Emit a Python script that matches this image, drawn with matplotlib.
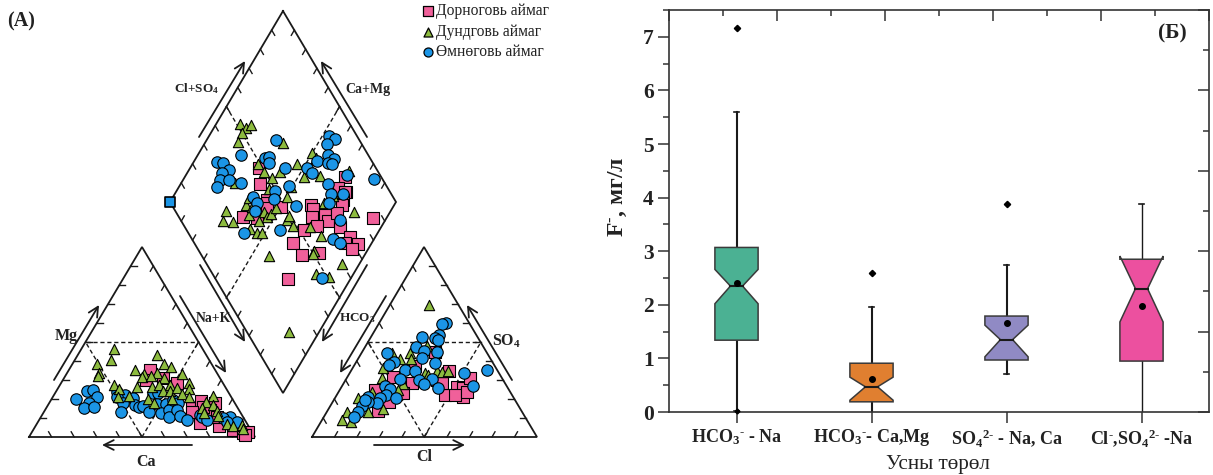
import numpy as np
import matplotlib
matplotlib.use('Agg')
import matplotlib.pyplot as plt
from matplotlib.ticker import MultipleLocator, NullFormatter

plt.rcParams['font.family'] = ['Liberation Serif', 'DejaVu Serif']
plt.rcParams['mathtext.fontset'] = 'custom'
plt.rcParams['mathtext.rm'] = 'Liberation Serif:bold'
plt.rcParams['mathtext.it'] = 'Liberation Serif:italic'
plt.rcParams['mathtext.bf'] = 'Liberation Serif:bold'
plt.rcParams['mathtext.default'] = 'bf'

# piper points in image pixels
diamond_pink = [(259,168),(260,184),(345,177),(338,188),(346,192),(267,200),(345,192),(343,200),(342,205),
                (267,203),(267,208),(281,207),(243,217),(311,205),(313,209),(312,217),(325,215),(328,221),
                (337,213),(317,226),(340,227),(304,230),(373,218),(350,237),(345,243),(358,244),(352,249),
                (293,243),(302,255),(319,253),(288,279),(257,218)]
diamond_green = [(240,124),(246,128),(251,125),(242,133),(238,142),(283,143),(258,164),(264,172),(272,178),
                 (280,172),(297,164),(312,153),(316,158),(304,177),(320,176),(349,171),(235,183),(291,187),
                 (269,189),(287,197),(333,193),(226,211),(223,221),(233,222),(250,229),(257,233),(262,233),
                 (249,215),(246,205),(252,207),(249,198),(264,212),(259,221),(267,217),(271,214),(276,208),
                 (287,220),(289,216),(293,226),(310,227),(321,236),(354,212),(324,203),(333,196),(269,256),
                 (314,251),(313,254),(342,264),(316,274),(329,277),(289,332)]
diamond_blue = [(276,140),(329,136),(335,139),(327,144),(241,155),(217,162),(223,163),(328,155),(334,159),
                (317,161),(328,163),(332,164),(265,158),(269,157),(269,163),(285,168),(229,170),(222,173),
                (220,180),(229,180),(241,183),(217,187),(307,168),(312,173),(328,184),(289,186),(275,191),
                (374,179),(347,175),(253,197),(274,199),(331,194),(343,194),(257,203),(255,211),(296,206),
                (329,203),(340,220),(280,230),(244,233),(333,239),(340,243),(322,278)]

left_pink = [(150,370),(146,380),(163,378),(177,383),(192,408),(201,401),(215,403),(200,423),(219,426),
             (210,410),(233,430),(243,433),(248,432),(203,407),(217,417),(192,412),(245,435)]
left_blue = [(76,399),(87,391),(93,390),(97,397),(89,403),(84,408),(94,407),(117,392),(125,395),(117,397),
             (133,398),(123,403),(121,412),(135,405),(139,407),(143,406),(149,412),(153,393),(158,393),
             (157,404),(166,404),(161,413),(169,410),(169,417),(173,400),(178,403),(177,410),(180,416),
             (187,420),(200,415),(202,417),(207,420),(230,417),(237,422),(223,418),(227,422)]
left_green = [(114,349),(111,360),(97,364),(99,373),(98,376),(114,385),(119,389),(118,397),(129,396),(135,370),
              (137,387),(157,355),(164,364),(171,367),(157,373),(144,374),(142,377),(151,376),(164,378),
              (182,374),(152,387),(159,385),(170,385),(163,391),(170,391),(177,388),(189,383),(189,389),
              (182,394),(189,397),(148,399),(154,403),(172,399),(213,396),(206,402),(213,405),(202,408),
              (204,413),(217,411),(218,416),(227,424),(233,426),(242,425),(243,429)]

right_pink = [(445,395),(457,387),(463,388),(463,397),(455,395),(470,378),(449,371),(415,366),(412,383),
              (403,393),(393,377),(375,390),(378,411),(389,402),(437,380),(442,383),(435,352),(467,392)]
right_green = [(429,305),(392,353),(410,353),(411,359),(400,359),(427,346),(383,368),(382,378),(425,373),
               (437,371),(442,372),(448,371),(403,384),(372,392),(358,398),(347,412),(342,420),(351,422),
               (383,409),(368,412),(398,390),(428,375)]
right_blue = [(487,370),(464,373),(473,386),(446,323),(442,324),(422,337),(439,335),(435,338),(438,340),
              (416,347),(424,351),(437,352),(387,353),(422,358),(394,362),(389,365),(435,363),(405,370),
              (415,371),(400,379),(432,379),(419,380),(424,384),(438,388),(385,386),(390,389),(386,395),
              (396,398),(380,398),(377,403),(368,397),(368,402),(362,406),(358,412),(354,417),(365,400)]

legend_names = ['Дорноговь аймаг', 'Дундговь аймаг', 'Өмнөговь аймаг']

# box chart values
box_labels = ['HCO$_3$$^{\\text{-}}$ - Na', 'HCO$_3$$^{\\text{-}}$- Ca,Mg',
              'SO$_4$$^{\\text{2-}}$ - Na, Ca', 'Cl$^{\\text{-}}$,SO$_4$$^{\\text{2-}}$ -Na']
box_q1 = [1.34, 0.19, 0.97, 0.95]
box_q3 = [3.07, 0.91, 1.79, 2.85]
box_med = [2.35, 0.47, 1.35, 2.30]
notch_lo = [2.02, 0.22, 1.03, 1.68]
notch_hi = [2.66, 0.65, 1.62, 2.91]
whisk_lo = [0.02, 0.0, 0.71, 0.0]
whisk_hi = [5.60, 1.95, 2.74, 3.88]
box_mean = [2.40, 0.62, 1.66, 1.97]
box_out = [7.17, 2.60, 3.88, None]
box_colors = ['#4bb193', '#e07f30', '#908ac4', '#ec509f']
whisk_width = [1.5, 1.5, 1.5, 1.0]

PINK = '#f0609a'
GREEN = '#8dbb3f'
BLUE = '#1b95e6'
INK = '#1a1a1a'

def side_ticks(ax, p0, p1, d, n=10, size=6):
    p0, p1 = np.array(p0, float), np.array(p1, float)
    for i in range(1, n):
        p = p0 + (p1 - p0) * i / n
        ax.plot([p[0], p[0] + d[0]*size], [p[1], p[1] + d[1]*size], color=INK, lw=1.0, zorder=2)

def outline(ax, pts):
    xs = [p[0] for p in pts] + [pts[0][0]]
    ys = [p[1] for p in pts] + [pts[0][1]]
    ax.plot(xs, ys, color=INK, lw=1.3, zorder=2, solid_joinstyle='miter')

def dashed(ax, a, b):
    ax.plot([a[0], b[0]], [a[1], b[1]], color=INK, lw=1.0, ls=(0, (3, 2)), zorder=2)

def arrow(ax, a, b):
    ax.annotate('', xy=b, xytext=a, zorder=2,
                arrowprops=dict(arrowstyle='->,head_length=0.7,head_width=0.35', color=INK, lw=1.3,
                                shrinkA=0, shrinkB=0))

def points(ax, data, marker, color, z):
    arr = np.array(data)
    ax.scatter(arr[:, 0], arr[:, 1], marker=marker, s=ms[marker], facecolor=color, edgecolor='black',
               linewidth=0.8, zorder=z, clip_on=False)

ms = {'s': 70, '^': 55, 'o': 68}
up_r, up_l = (0.5, -0.866), (-0.5, -0.866)
dn_r, dn_l = (0.5, 0.866), (-0.5, 0.866)

fig = plt.figure(figsize=(12.13, 4.75), dpi=100)

# left panel, axes units are image pixels
ax = fig.add_axes([0, 0, 600/1213, 1])
ax.set_xlim(0, 600)
ax.set_ylim(475, 0)
ax.axis('off')

# cation triangle
A, B, C = (29, 437), (255, 437), (142, 247)
outline(ax, [A, B, C])
side_ticks(ax, A, B, up_l)
side_ticks(ax, A, C, (1, 0))
side_ticks(ax, C, B, dn_l)
dashed(ax, (85.5, 342), (198.5, 342))
dashed(ax, (142, 437), (85.5, 342))
dashed(ax, (142, 437), (198.5, 342))
arrow(ax, (54, 380), (99, 305))
arrow(ax, (180, 296), (226, 373))
arrow(ax, (192, 445), (102, 445))

# anion triangle
D, E, F = (312, 437), (537, 437), (424, 247)
outline(ax, [D, E, F])
side_ticks(ax, D, E, up_r)
side_ticks(ax, E, F, (-1, 0))
side_ticks(ax, F, D, dn_r)
dashed(ax, (368, 342), (481, 342))
dashed(ax, (424, 437), (368, 342))
dashed(ax, (424, 437), (481, 342))
arrow(ax, (386, 296), (340, 373))
arrow(ax, (512, 380), (467, 305))
arrow(ax, (374, 445), (465, 445))

# diamond
T, L, R, S = (283, 11), (170, 202), (396, 202), (283, 393)
outline(ax, [T, R, S, L])
side_ticks(ax, T, L, dn_r)
side_ticks(ax, T, R, dn_l)
side_ticks(ax, S, L, up_r)
side_ticks(ax, S, R, up_l)
dashed(ax, (226, 106), (340, 299))
dashed(ax, (340, 106), (226, 299))
arrow(ax, (199, 137), (245, 61))
arrow(ax, (367, 137), (321, 61))
arrow(ax, (200, 265), (245, 342))
arrow(ax, (367, 265), (322, 342))

points(ax, left_pink, 's', PINK, 3)
points(ax, left_blue, 'o', BLUE, 4)
points(ax, left_green, '^', GREEN, 5)
points(ax, right_pink, 's', PINK, 3)
points(ax, right_green, '^', GREEN, 4)
points(ax, right_blue, 'o', BLUE, 5)
points(ax, diamond_pink, 's', PINK, 3)
points(ax, diamond_green, '^', GREEN, 4)
points(ax, diamond_blue, 'o', BLUE, 5)
ax.scatter([170], [202], marker='s', s=50, facecolor=BLUE, edgecolor='black', linewidth=1.2, zorder=6)

for txt, x, y, fs in [('Cl+SO$_4$', 197, 89, 9.5), ('Ca+Mg', 368, 90, 10), ('Na+K', 213, 318, 9.8),
                      ('HCO$_3$', 357, 318, 9.5), ('Mg', 66, 336, 11.5), ('Ca', 146, 462, 11.5),
                      ('Cl', 424, 457, 11.5), ('SO$_4$', 506, 341, 11.5), ('(A)', 21, 21, 14.5)]:
    ax.text(x, y, txt, fontsize=fs, fontweight='bold', ha='center', va='center', color='#222222', zorder=7)

for name, m, c, y in zip(legend_names, ['s', '^', 'o'], [PINK, GREEN, BLUE], [11, 32, 52]):
    ax.scatter([428], [y], marker=m, s=42, facecolor=c, edgecolor='black', linewidth=0.9)
    ax.text(436, y, name, fontsize=11.2, va='center', ha='left', color='#222222')

# box chart
bx = fig.add_axes([669/1213, (475-412)/475, 540/1213, 402/475])
for i in range(4):
    x = i + 1
    w = 0.16
    neck = 0.045
    xs = [x-w, x+w, x+w, x+neck, x+w, x+w, x-w, x-w, x-neck, x-w, x-w]
    ys = [box_q1[i], box_q1[i], notch_lo[i], box_med[i], notch_hi[i], box_q3[i], box_q3[i],
          notch_hi[i], box_med[i], notch_lo[i], box_q1[i]]
    bx.plot([x, x], [box_q3[i], whisk_hi[i]], color=INK, lw=whisk_width[i], zorder=2)
    bx.plot([x, x], [whisk_lo[i], box_q1[i]], color=INK, lw=whisk_width[i], zorder=2)
    bx.plot([x-0.018, x+0.018], [whisk_hi[i], whisk_hi[i]], color=INK, lw=1.2, zorder=2)
    if whisk_lo[i] > 0:
        bx.plot([x-0.018, x+0.018], [whisk_lo[i], whisk_lo[i]], color=INK, lw=1.2, zorder=2)
    bx.fill(xs, ys, facecolor=box_colors[i], edgecolor='#3a3a3a', lw=1.1, zorder=3)
    bx.plot([x-neck, x+neck], [box_med[i], box_med[i]], color=INK, lw=1.5, zorder=4)
    bx.plot([x], [box_mean[i]], 'o', color='black', ms=4, zorder=5)
    if box_out[i] is not None:
        bx.plot([x], [box_out[i]], 'D', color='black', ms=3.2, zorder=5)

bx.plot([1], [whisk_lo[0]], 'D', color='black', ms=2.5, zorder=5, clip_on=False)
bx.set_xlim(0.5, 4.5)
bx.set_ylim(0, 7.5)
bx.set_xticks([1, 2, 3, 4])
bx.set_xticklabels(box_labels, fontsize=13, fontweight='bold', color='#222222')
bx.yaxis.set_major_locator(MultipleLocator(1))
bx.yaxis.set_minor_locator(MultipleLocator(0.5))
bx.tick_params(axis='y', which='major', direction='out', length=8, width=1.1, labelsize=15.5, pad=3,
               color='#333333', labelcolor='#222222')
bx.tick_params(axis='y', which='minor', direction='out', length=4, width=1.1, color='#333333')
bx.tick_params(axis='x', which='major', direction='out', length=8, width=1.1, pad=3, color='#333333')
for lab in bx.get_yticklabels():
    lab.set_fontweight('bold')
for s in bx.spines.values():
    s.set_linewidth(1.2)
    s.set_color('#333333')
fig.text(618/1213, 1 - 197/475, 'F$^{\\text{-}}$, мг/л', fontsize=17, fontweight='bold', rotation=90,
         ha='center', va='center', color='#222222')
fig.text(938/1213, 1 - 465/475, 'Усны төрөл', fontsize=15.2, ha='center', va='center', color='#222222')
fig.text(1172/1213, 1 - 33/475, '(Б)', fontsize=15.5, fontweight='bold', ha='center', va='center', color='#222222')

# opposite axes carry their own tick spacing
top = bx.twiny()
top.set_xlim(0, 1)
top.xaxis.set_major_locator(MultipleLocator(0.2))
top.xaxis.set_minor_locator(MultipleLocator(0.1))
top.tick_params(axis='x', which='major', direction='in', length=8, width=1.1, labeltop=False, color='#333333')
top.tick_params(axis='x', which='minor', direction='in', length=4, width=1.1, color='#333333')
right = bx.twinx()
right.set_ylim(0, 1)
right.yaxis.set_major_locator(MultipleLocator(0.2))
right.yaxis.set_minor_locator(MultipleLocator(0.1))
right.tick_params(axis='y', which='major', direction='in', length=8, width=1.1, labelright=False, color='#333333')
right.tick_params(axis='y', which='minor', direction='in', length=4, width=1.1, color='#333333')
for t in (top, right):
    t.xaxis.set_minor_formatter(NullFormatter())
    t.yaxis.set_minor_formatter(NullFormatter())
    for s in t.spines.values():
        s.set_visible(False)

fig.savefig('out.png', dpi=100)
